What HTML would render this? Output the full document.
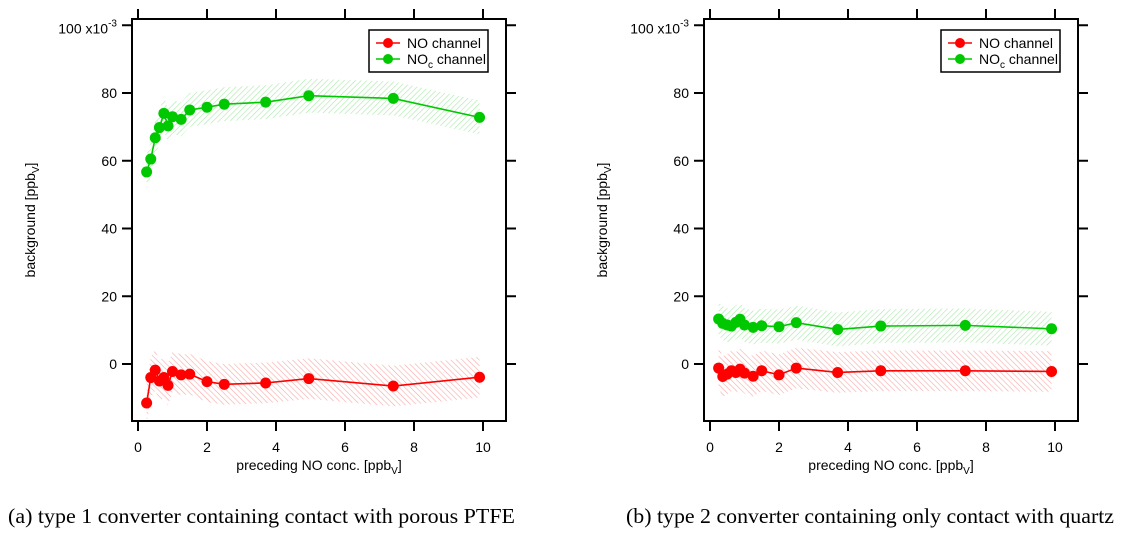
<!DOCTYPE html>
<html><head><meta charset="utf-8"><style>
body{margin:0;background:#fff;width:1126px;height:537px;overflow:hidden}
svg text{font-family:"Liberation Sans",sans-serif}
</style></head><body>
<svg id="s" width="1126" height="537" xmlns="http://www.w3.org/2000/svg">
<defs>
<pattern id="hg" width="4" height="4" patternUnits="userSpaceOnUse" patternTransform="rotate(45)"><line x1="0" y1="0" x2="0" y2="4" stroke="#a8e8a8" stroke-width="1.2"/></pattern>
<pattern id="hr" width="4" height="4" patternUnits="userSpaceOnUse" patternTransform="rotate(-45)"><line x1="0" y1="0" x2="0" y2="4" stroke="#f8a8a8" stroke-width="1.2"/></pattern>
</defs>
<text x="8" y="523" font-size="21" textLength="507" lengthAdjust="spacingAndGlyphs" style="font-family:'Liberation Serif',serif">(a) type 1 converter containing contact with porous PTFE</text>
<text x="626" y="523" font-size="21" textLength="488" lengthAdjust="spacingAndGlyphs" style="font-family:'Liberation Serif',serif">(b) type 2 converter containing only contact with quartz</text>
</svg>
<script>
const xVals=[0.25,0.37,0.5,0.62,0.75,0.87,1.0,1.25,1.5,2,2.5,3.7,4.95,7.4,9.9];
const greenA=[56.7,60.5,66.8,69.8,74,70.3,73,72.2,75,75.8,76.7,77.3,79.2,78.4,72.8];
const redA=[-11.5,-4,-1.8,-5,-4,-6.3,-2.2,-3.2,-3,-5.2,-6,-5.6,-4.3,-6.5,-3.9];
const greenB=[13.3,12,11.5,11.2,12.3,13.2,11.5,10.8,11.3,11,12.2,10.2,11.2,11.4,10.4];
const redB=[-1.2,-3.7,-3,-2,-2.5,-1.5,-2.7,-3.6,-2,-3.2,-1.2,-2.5,-2,-2,-2.2];
const bandHalf=[5,6];
const xTicks=[0,2,4,6,8,10];
const yTicks=[0,20,40,60,80];
const NS='http://www.w3.org/2000/svg';
const svg=document.getElementById('s');
function mk(t,a,p){const e=document.createElementNS(NS,t);for(const k in a)e.setAttribute(k,a[k]);(p||svg).appendChild(e);return e;}
function panel(off,green,red,id){
  const L=132+off,R=506+off,T=19,B=421;
  const g=mk('g',{});
  
  
  const X=v=>138+off+v*34.5, Y=v=>364-v*3.3875;
  [[green,'url(#hg)',bandHalf[0],'green'],[red,'url(#hr)',bandHalf[1],'red']].forEach(([d,f,h,n])=>{
    let up=xVals.map((x,i)=>X(x)+','+Y(d[i]+h)).join(' ');
    let dn=xVals.map((x,i)=>X(x)+','+Y(d[i]-h)).reverse().join(' ');
    const p=mk('polygon',{points:up+' '+dn,fill:f},g);
    
    
  });
  const fr=mk('rect',{x:L,y:T,width:R-L,height:B-T,fill:'none',stroke:'#000','stroke-width':2},g);
  
  
  xTicks.forEach(t=>{
    mk('line',{x1:X(t),x2:X(t),y1:B,y2:B+10,stroke:'#000','stroke-width':2},g);
    mk('line',{x1:X(t),x2:X(t),y1:T,y2:T-10,stroke:'#000','stroke-width':2},g);
    const tx=mk('text',{x:X(t),y:B+31,'font-size':14,'text-anchor':'middle'},g);tx.textContent=t;
    
    
  });
  yTicks.concat([100]).forEach(t=>{
    mk('line',{x1:L,x2:L-10,y1:Y(t),y2:Y(t),stroke:'#000','stroke-width':2},g);
    mk('line',{x1:R,x2:R+10,y1:Y(t),y2:Y(t),stroke:'#000','stroke-width':2},g);
    if(t<100){const tx=mk('text',{x:L-15,y:Y(t)+5,'font-size':14,'text-anchor':'end'},g);tx.textContent=t;
    
    }
  });
  const top=mk('text',{x:L-15,y:Y(100)+8,'font-size':14,'text-anchor':'end'},g);
  top.innerHTML='100 x10<tspan dy="-7" font-size="10">-3</tspan><tspan dy="7"> </tspan>';
  
  
  const yl=mk('text',{transform:`translate(${L-97},${(T+B)/2}) rotate(-90)`,'font-size':14,'text-anchor':'middle'},g);
  yl.innerHTML='background [ppb<tspan dy="4" font-size="10">V</tspan><tspan dy="-4">]</tspan>';
  
  
  const xl=mk('text',{x:(L+R)/2,y:B+49,'font-size':14,'text-anchor':'middle'},g);
  xl.innerHTML='preceding NO conc. [ppb<tspan dy="4" font-size="10">V</tspan><tspan dy="-4">]</tspan>';
  
  
  [[green,'#00c800','green'],[red,'#ff0000','red']].forEach(([d,c,n])=>{
    const pl=mk('polyline',{points:xVals.map((x,i)=>X(x)+','+Y(d[i])).join(' '),fill:'none',stroke:c,'stroke-width':1.6},g);
    
    
    xVals.forEach((x,i)=>{const c1=mk('circle',{cx:X(x),cy:Y(d[i]),r:5.5,fill:c},g);
      
      });
  });
  const lx=369+off;
  const lg=mk('g',{},g);
  
  
  mk('rect',{x:lx,y:30,width:119,height:42,fill:'#fff',stroke:'#000','stroke-width':1.5},lg);
  [['#ff0000','NO channel',43],['#00c800','NO<tspan dy="4" font-size="10">c</tspan><tspan dy="-4"> channel</tspan>',59]].forEach(([c,t,y])=>{
    mk('line',{x1:lx+7,x2:lx+31,y1:y,y2:y,stroke:c,'stroke-width':1.5},lg);
    mk('circle',{cx:lx+19,cy:y,r:5,fill:c},lg);
    const tt=mk('text',{x:lx+38,y:y+5,'font-size':14},lg);tt.innerHTML=t;
    
    
  });
}
panel(0,greenA,redA,'a');
panel(572,greenB,redB,'b');
</script>
</body></html>
